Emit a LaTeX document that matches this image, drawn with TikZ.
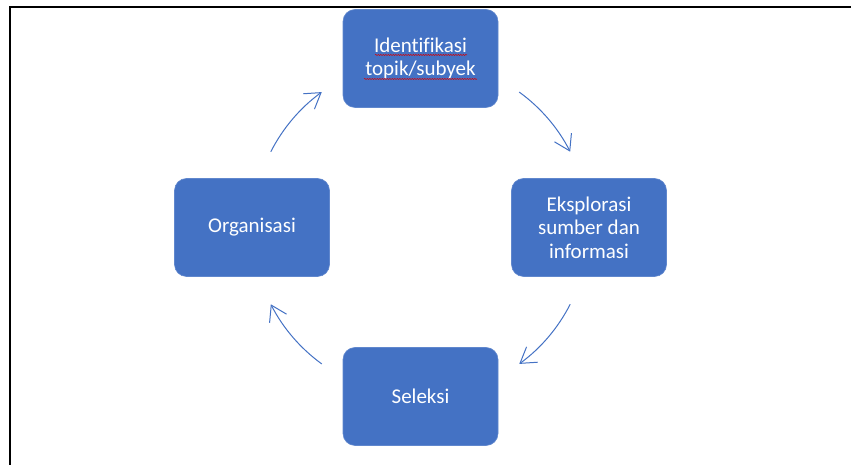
\documentclass[tikz,border=0pt]{standalone}
\usepackage{fontspec}
\setmainfont{Carlito}[Ligatures={NoCommon}]
\usetikzlibrary{arrows.meta,positioning,calc,decorations.pathmorphing}
\definecolor{boxblue}{HTML}{4472C4}

\begin{document}
\begin{tikzpicture}[x=1pt,y=1pt,
    stepbox/.style={fill=boxblue,draw=boxblue!85!white,line width=0.6pt,rounded corners=12pt,
      minimum width=155pt,minimum height=98pt,text=white,align=center,inner sep=0pt,
      font=\fontsize{21}{23.3}\selectfont},
    cyc/.style={draw=boxblue,line width=1pt,-{Straight Barb[length=15pt,width=19pt,line width=1pt]}},
    spell/.style={draw=red!85!black,line width=0.5pt,decorate,
      decoration={snake,amplitude=0.6pt,segment length=2.5pt}}]
    \useasboundingbox (0,0) rectangle (851,465);
    % frame
    \draw [line width=2pt] (10.3,0) -- (10.3,458) -- (851,458);

    \node [stepbox] (ident) at (420.5,406.5) {Identifikasi\\topik/subyek};
    \node [stepbox] (ekspl) at (589,237.5) {Eksplorasi\\sumber dan\\informasi};
    \node [stepbox] (selek) at (420.5,68.5) {Seleksi};
    \node [stepbox] (organ) at (252,237.5) {Organisasi};

    % spell-check marks
    \draw [spell] ($(ident.center)+(-45.5,3.5)$) -- ($(ident.center)+(46.5,3.5)$);
    \draw [spell] ($(ident.center)+(-56.5,-20.5)$) -- ($(ident.center)+(56.5,-20.5)$);

    \coordinate (mid) at (420.5,237);
    \coordinate (a1) at ($(mid)+(54:168)$);
    \coordinate (a2) at ($(mid)+(-27:168)$);
    \coordinate (a3) at ($(mid)+(-126:168)$);
    \coordinate (a4) at ($(mid)+(153:168)$);
    \draw [cyc] (a1) arc [start angle=54, end angle=27, radius=168];
    \draw [cyc] (a2) arc [start angle=-27, end angle=-54, radius=168];
    \draw [cyc] (a3) arc [start angle=-126, end angle=-153, radius=168];
    \draw [cyc] (a4) arc [start angle=153, end angle=126, radius=168];
\end{tikzpicture}
\end{document}
